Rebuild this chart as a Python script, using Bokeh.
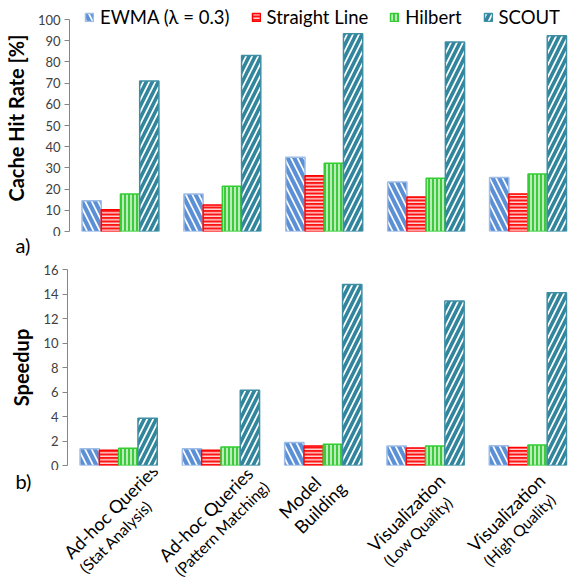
import numpy as np
from bokeh.plotting import figure
from bokeh.models import (ColumnDataSource, Legend, LegendItem, FixedTicker, Range1d)
from bokeh.core.properties import value
from bokeh.embed import file_html
from bokeh.resources import INLINE

# ---------------- data ----------------
cat_main = ["Ad-hoc Queries", "Ad-hoc Queries", "Model", "Visualization", "Visualization"]
cat_sub = ["(Stat Analysis)", "(Pattern Matching)", "Building", "(Low Quality)", "(High Quality)"]
series = ["EWMA (\u03bb = 0.3)", "Straight Line", "Hilbert", "SCOUT"]

hit_ewma = [14.5, 17.7, 35.0, 23.4, 25.5]
hit_straight = [10.3, 12.5, 26.3, 16.3, 17.7]
hit_hilbert = [17.7, 21.3, 32.2, 25.1, 27.1]
hit_scout = [71.0, 83.0, 93.3, 89.4, 92.3]

speed_ewma = [1.37, 1.37, 1.87, 1.60, 1.62]
speed_straight = [1.24, 1.24, 1.60, 1.43, 1.46]
speed_hilbert = [1.40, 1.51, 1.73, 1.60, 1.68]
speed_scout = [3.86, 6.15, 14.77, 13.43, 14.10]

hit_ticks = [0, 10, 20, 30, 40, 50, 60, 70, 80, 90, 100]
speed_ticks = [0, 2, 4, 6, 8, 10, 12, 14, 16]

# ---------------- layout / styling ----------------
FONT = "Lato"
W = 569
LEFT = 67                      # left border of the bar frames
BAR_W = 0.1887
X_RANGE = (-0.5, 4.407)
PX = (W - LEFT) / (X_RANGE[1] - X_RANGE[0])   # pixels per category unit
STRIP_X = (X_RANGE[0] - LEFT / PX, X_RANGE[1])
BASE_FIX = 9.0                 # renderer draws text ~9px below the requested baseline
xs = np.arange(len(cat_main))

styles = [
    dict(fill_color="#5B8FD6", line_color="#9DBCE6", hatch_pattern="left_diagonal_line",
         hatch_color="white", hatch_scale=13, hatch_weight=1.7),
    dict(fill_color="#FF1414", line_color="#FF0000", hatch_pattern="horizontal_line",
         hatch_color="white", hatch_scale=3.5, hatch_weight=1.2),
    dict(fill_color="#3DCB3D", line_color="#33CC33", hatch_pattern="vertical_line",
         hatch_color="white", hatch_scale=4, hatch_weight=1.3),
    dict(fill_color="#31859C", line_color="#3E8EA4", hatch_pattern="right_diagonal_line",
         hatch_color="white", hatch_scale=12, hatch_weight=1.7),
]


def make_fig(height, b_top, b_bottom, ymax, yend, ticks, ylabel, values):
    p = figure(width=W, height=height, x_range=Range1d(*X_RANGE), y_range=Range1d(0, yend),
               output_backend="svg", toolbar_location=None, title=None,
               min_border_left=LEFT, min_border_right=0,
               min_border_top=b_top, min_border_bottom=b_bottom)
    p.outline_line_color = None
    p.grid.visible = False
    p.xaxis.visible = False
    ax = p.yaxis[0]
    ax.bounds = (0, ymax)
    ax.ticker = FixedTicker(ticks=ticks)
    ax.axis_line_color = "#868686"
    ax.major_tick_line_color = "#868686"
    ax.major_tick_out = 5
    ax.major_tick_in = 0
    ax.minor_tick_out = 0
    ax.minor_tick_in = 0
    ax.major_label_text_font = FONT
    ax.major_label_text_font_size = "13px"
    ax.major_label_text_color = "#404040"
    ax.major_label_standoff = 4
    ax.axis_label = ylabel
    ax.axis_label_text_font = FONT
    ax.axis_label_text_font_size = "20px"
    ax.axis_label_text_font_style = "bold"
    ax.axis_label_text_color = "black"
    ax.axis_label_standoff = 7
    renderers = []
    for j, vals in enumerate(values):
        src = ColumnDataSource(dict(x=xs + (j - 1.5) * BAR_W, top=vals))
        r = p.vbar(x="x", top="top", width=BAR_W, bottom=0, source=src,
                   line_width=1.5, **styles[j])
        renderers.append(r)
    return p, renderers


def make_strip(height, ytop):
    s = figure(width=W, height=height, x_range=Range1d(*STRIP_X),
               y_range=Range1d(ytop - height, ytop), output_backend="svg",
               toolbar_location=None, x_axis_type=None, y_axis_type=None, title=None,
               min_border=0, min_border_left=0, min_border_right=0,
               min_border_top=0, min_border_bottom=0)
    s.outline_line_color = None
    return s


# ---- top chart (cache hit rate); frame reaches above 100 so the legend fits in it ----
TOP_FRAME = 227                       # frame pixels (y = 100 lies 212 px above y = 0)
top, rs = make_fig(236, 4, 5, 100, 100 * TOP_FRAME / 212, hit_ticks, "Cache Hit Rate [%]",
                   [hit_ewma, hit_straight, hit_hilbert, hit_scout])
legend = Legend(items=[LegendItem(label=series[j], renderers=[rs[j]]) for j in range(4)],
                orientation="horizontal", location=(15, 203), padding=0, margin=0,
                spacing=21, glyph_width=10, glyph_height=10, label_standoff=6,
                label_height=19, label_text_font=FONT, label_text_font_size="18.5px",
                label_text_color="black", border_line_color=None,
                background_fill_alpha=0)
top.add_layout(legend)

# ---- strip with "a)" (y measured in pixels from the top frame's bottom) ----
strip_a = make_strip(25, -5)
strip_a.text(x=[X_RANGE[0] - 52 / PX], y=[-22 + BASE_FIX], text=["a)"], text_align="left",
             text_baseline="alphabetic", text_font=value(FONT),
             text_font_size=value("20px"), text_color="black")

# ---- bottom chart (speedup) ----
bot, _ = make_fig(209, 8, 5, 16, 16, speed_ticks, "Speedup",
                  [speed_ewma, speed_straight, speed_hilbert, speed_scout])

# ---- strip with category labels and "b)" (pixels below the bottom frame) ----
strip_b = make_strip(108, -5)
strip_b.text(x=[X_RANGE[0] - 52 / PX], y=[-24 + BASE_FIX], text=["b)"], text_align="left",
             text_baseline="alphabetic", text_font=value(FONT),
             text_font_size=value("20px"), text_color="black")

label_dx = [-45.5, -52.8, -35.0, -48.4, -50.7]     # pixel offset of line start
label_dy = [-96.0, -99.0, -56.0, -89.0, -89.0]     # pixels below the bar frame
sub_size = ["15.5px", "15.5px", "18px", "15.5px", "15.5px"]
fx = -BASE_FIX * np.sin(np.pi / 4)     # perpendicular correction for rotated text
fy = BASE_FIX * np.cos(np.pi / 4)
main_src = ColumnDataSource(dict(x=xs + (np.array(label_dx) + fx) / PX,
                                 y=[d + fy for d in label_dy], text=cat_main))
sub_src = ColumnDataSource(dict(x=xs + (np.array(label_dx) + 15.5 + fx) / PX,
                                y=[d - 15 + fy for d in label_dy], text=cat_sub, size=sub_size))
strip_b.text(x="x", y="y", text="text", source=main_src, angle=np.pi / 4,
             text_align="left", text_baseline="alphabetic", text_font=value(FONT),
             text_font_size=value("18px"), text_color="black")
strip_b.text(x="x", y="y", text="text", source=sub_src, angle=np.pi / 4,
             text_align="left", text_baseline="alphabetic", text_font=value(FONT),
             text_font_size="size", text_color="black")

open("out.html", "w").write(file_html([top, strip_a, bot, strip_b], INLINE))
